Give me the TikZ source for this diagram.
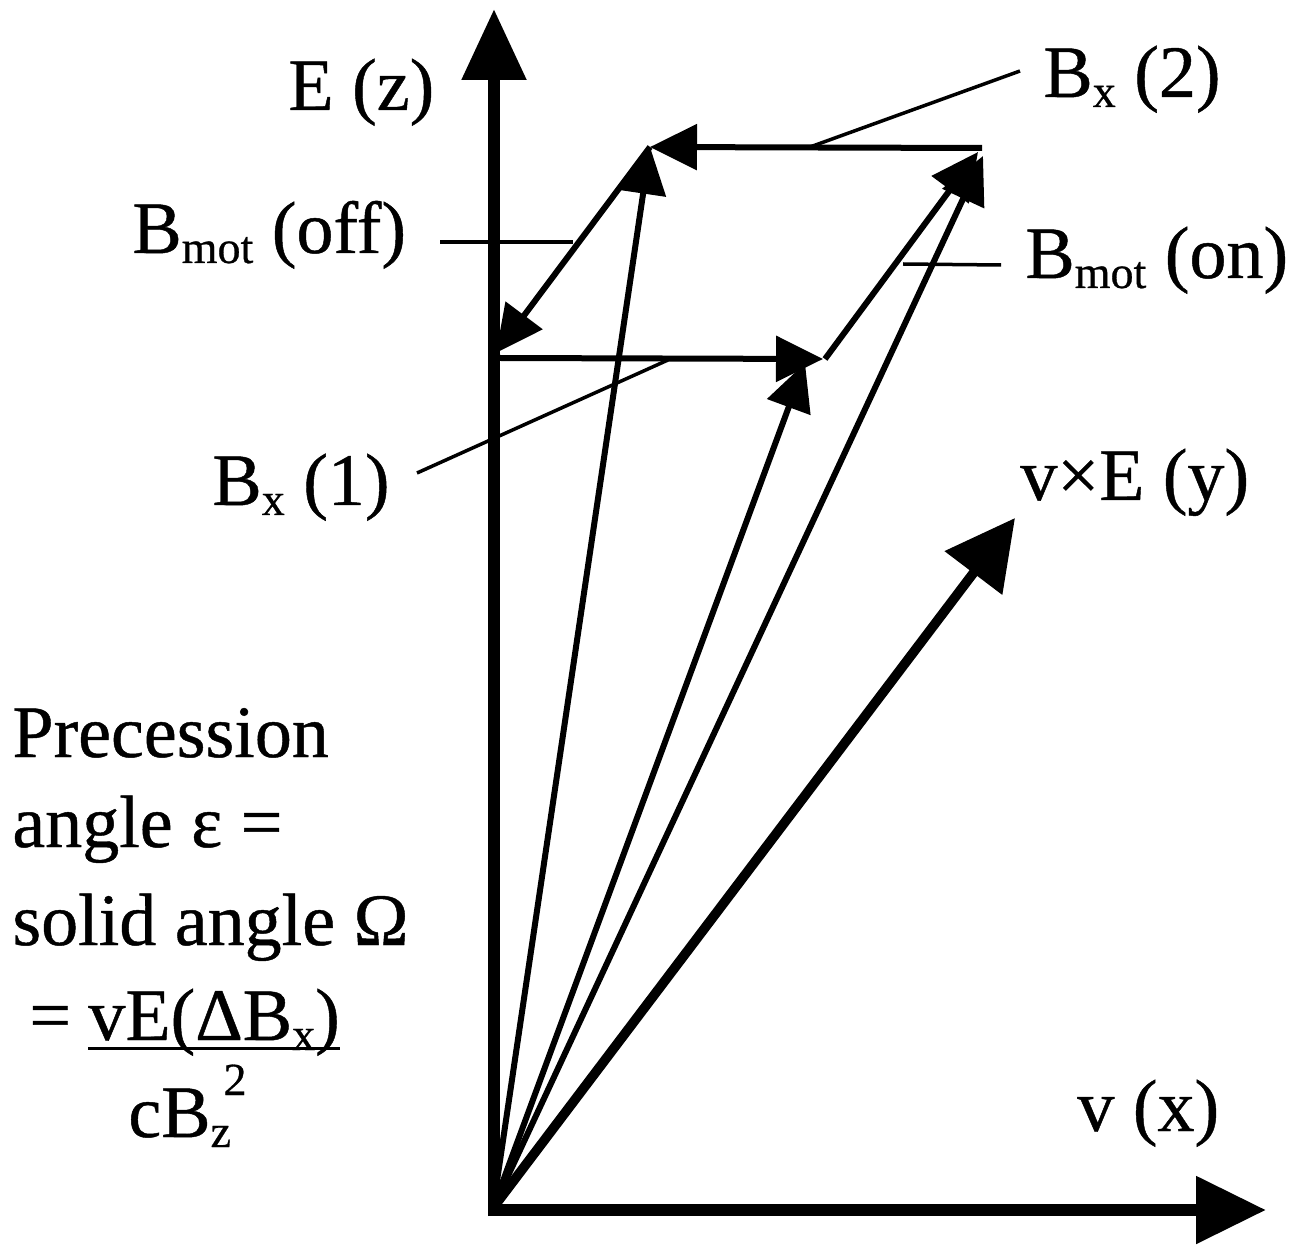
\documentclass[tikz,border=0pt]{standalone}
\usepackage{fontspec}
\setmainfont{Liberation Serif}
\newfontfamily\heavyserif{Liberation Serif}[FakeBold=0.6]
\usetikzlibrary{arrows.meta}
\newcommand\lowsub[1]{\raisebox{-5pt}{\fontsize{23}{23}\selectfont #1}}
\newcommand\highsup[2]{\raisebox{#1}{\fontsize{23}{23}\selectfont #2}}
\begin{document}
\begin{tikzpicture}[x=0.5pt,y=-0.5pt,
  axisline/.style={line width=6pt},
  zhead/.style={-{Triangle[length=35.5pt,width=31pt]}},
  xhead/.style={-{Triangle[length=35pt,width=32.5pt]}},
  thickvec/.style={line width=4.8pt,-{Triangle[length=34.5pt,width=35pt]}},
  vec/.style={line width=3pt,-{Triangle[length=23.5pt,width=22.5pt]}},
  leader/.style={line width=1.75pt},
  lbl/.style={anchor=base west,inner sep=0pt,font=\heavyserif\fontsize{37}{44}\selectfont}]
\useasboundingbox (0,0) rectangle (1300,1245);
\fill[white] (0,0) rectangle (1300,1245);

% key points
\coordinate (O) at (493,1208);
\coordinate (Zbot) at (494,1216);
\coordinate (Ztip) at (494,9);
\coordinate (Xbot) at (488,1210);
\coordinate (Xtip) at (1266,1210);
\coordinate (VE) at (1015,518);
\coordinate (P1) at (650,147);
\coordinate (P2s) at (982,148);
\coordinate (P2) at (978,152);
\coordinate (T3) at (983,156);
\coordinate (Q0) at (496,353);
\coordinate (Q1s) at (500,358);
\coordinate (Q1) at (823,359);
\coordinate (Q1e) at (825,359);
\coordinate (T2) at (805,363);

% leader end points
\coordinate (LBx2a) at (810,147);
\coordinate (LBx2b) at (1020,71);
\coordinate (LBoffa) at (440,242);
\coordinate (LBoffb) at (573,242);
\coordinate (LBona) at (903,264);
\coordinate (LBonb) at (1001,265);
\coordinate (LBx1a) at (417,473);
\coordinate (LBx1b) at (668,360);

% axes
\draw[axisline,zhead] (Zbot) -- (Ztip);
\draw[axisline,xhead] (Xbot) -- (Xtip);

% field vectors from origin
\draw[vec] (O) -- (P1);
\draw[vec] (O) -- (T2);
\draw[vec] (O) -- (T3);

% precession path
\draw[vec] (Q1s) -- (Q1);
\draw[vec] (Q1e) -- (P2);
\draw[vec] (P2s) -- (P1);
\draw[vec] (P1) -- (Q0);

% v x E
\draw[thickvec] (O) -- (VE);

% leaders
\draw[leader] (LBx2a) -- (LBx2b);
\draw[leader] (LBoffa) -- (LBoffb);
\draw[leader] (LBona) -- (LBonb);
\draw[leader] (LBx1a) -- (LBx1b);

% labels
\node[lbl] (Ez) at (288,110) {E (z)};
\node[lbl] (Boff) at (132,253) {B\lowsub{mot} (off)};
\node[lbl] (Bx2) at (1043,97) {B\lowsub{x} (2)};
\node[lbl] (Bon) at (1025,278) {B\lowsub{mot} (on)};
\node[lbl] (Bx1) at (212,505) {B\lowsub{x} (1)};
\node[lbl] (vxE) at (1020,500) {v×E (y)};
\node[lbl] (vx) at (1077,1131) {v (x)};

% formula
\node[lbl] (t1) at (12,757) {Precession};
\node[lbl] (t2) at (12,847) {angle ε =};
\node[lbl] (t3) at (12,945) {solid angle Ω};
\node[lbl] (t4) at (29,1040) {=};
\node[lbl] (num) at (88,1040) {vE(ΔB\lowsub{x})};
\draw[line width=1.5pt] ([yshift=-4pt]num.base west) -- ([yshift=-4pt]num.base east);
\node[lbl] (den) at (128,1137) {cB\rlap{\lowsub{z}}\hspace{6.5pt}\highsup{21pt}{2}};
\end{tikzpicture}
\end{document}
